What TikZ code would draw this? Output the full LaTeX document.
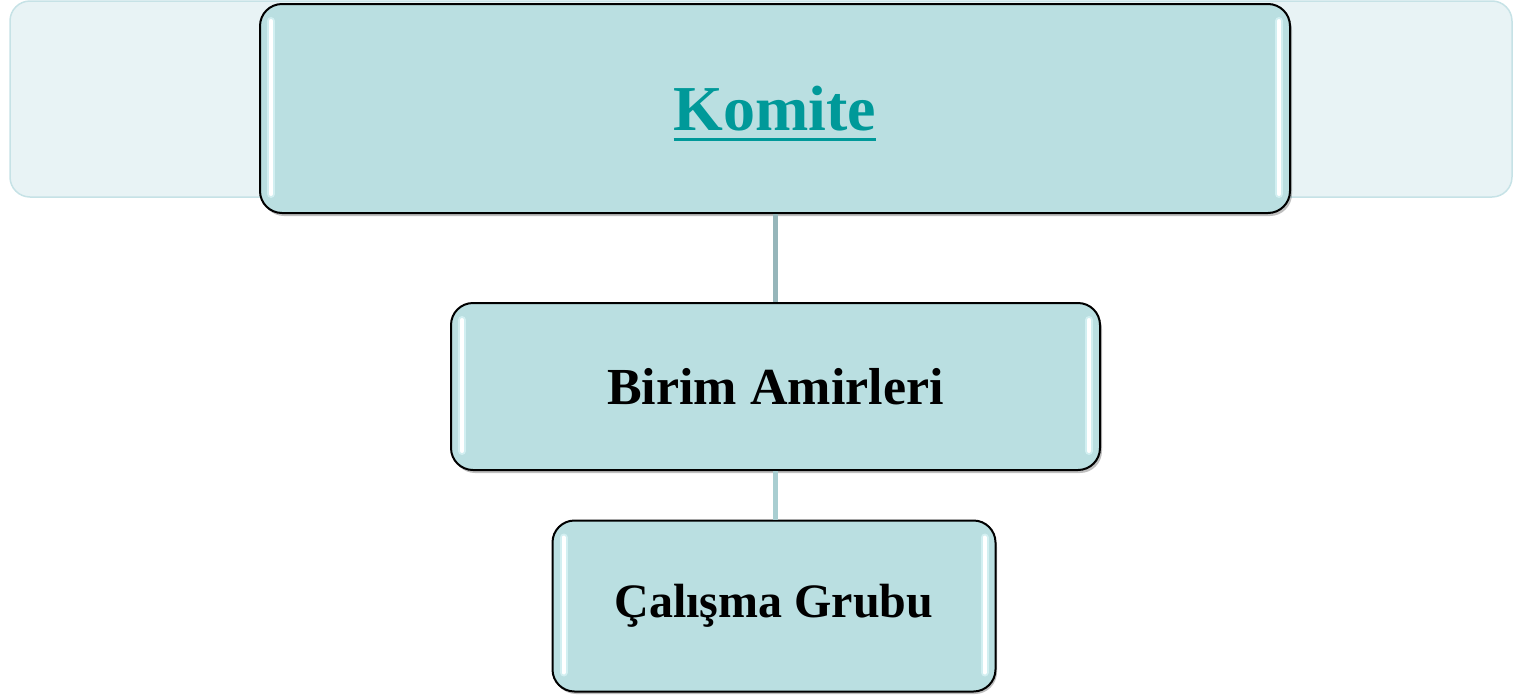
\documentclass[tikz,border=0pt]{standalone}
\usepackage{fontspec}
\setmainfont{Liberation Serif}
\usetikzlibrary{calc}
\definecolor{bgfill}{HTML}{E8F3F5}
\definecolor{bgline}{HTML}{C6E2E6}
\definecolor{boxfill}{HTML}{BADFE1}
\definecolor{teal}{HTML}{009999}
\definecolor{conA}{HTML}{96B6BA}
\definecolor{conB}{HTML}{A9CED1}
\definecolor{glow}{HTML}{DDF6F8}
\newcommand{\thickul}[1]{{\setbox0\hbox{#1}\rlap{\smash{\rule[-11pt]{\wd0}{3pt}}}\box0}}
\begin{document}
\begin{tikzpicture}[x=1pt,y=-1pt,
  orgbox/.style={draw=black,line width=2pt,fill=boxfill,rounded corners=22pt,
    inner sep=0pt,font=\bfseries},
  link/.style={line width=5pt}]
\useasboundingbox (0,0) rectangle (1513,694);
% background band
\draw[bgline,fill=bgfill,line width=1.5pt,rounded corners=20pt] (10,1) rectangle (1512,197);
% shadows
\fill[black,opacity=0.25,rounded corners=22pt] (262,8) rectangle (1292,216);
\fill[black,opacity=0.25,rounded corners=22pt] (453,307) rectangle (1102,473);
\fill[black,opacity=0.25,rounded corners=22pt] (554,525) rectangle (997,694);
% boxes
\node[orgbox,minimum width=1030pt,minimum height=209pt,font=\bfseries\fontsize{64}{70}\selectfont,text=teal]
  (komite) at (775,108.5) {\thickul{Komite}};
\node[orgbox,minimum width=649pt,minimum height=167pt,font=\bfseries\fontsize{52}{60}\selectfont]
  (birim) at (775.5,386.5) {Birim Amirleri};
\node[orgbox,minimum width=443pt,minimum height=171pt,font=\bfseries\fontsize{48}{56}\selectfont]
  (calisma) at (774,606) {Çalışma Grubu};
\draw[conA,link] (komite.south) -- (komite.south |- birim.north);
\draw[conB,link] (komite.south |- birim.south) -- (komite.south |- calisma.north);
% highlights
\foreach \n in {komite,birim,calisma}{
  \draw[glow,line width=8pt,line cap=round,opacity=0.7]
    ($(\n.north west)+(12,18)$) -- ($(\n.south west)+(12,-20)$);
  \draw[white,line width=4pt,line cap=round]
    ($(\n.north west)+(12,18)$) -- ($(\n.south west)+(12,-20)$);
  \draw[glow,line width=8pt,line cap=round,opacity=0.7]
    ($(\n.north east)+(-12,18)$) -- ($(\n.south east)+(-12,-20)$);
  \draw[white,line width=4pt,line cap=round]
    ($(\n.north east)+(-12,18)$) -- ($(\n.south east)+(-12,-20)$);
}
\end{tikzpicture}
\end{document}
